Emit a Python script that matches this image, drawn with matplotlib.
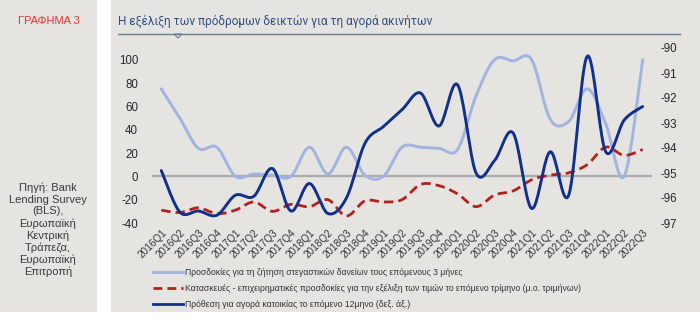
import numpy as np
import matplotlib
matplotlib.use("Agg")
import matplotlib.pyplot as plt
from matplotlib.patches import Rectangle, Polygon
from matplotlib.lines import Line2D
from matplotlib import font_manager

quarters = ["2016Q1", "2016Q2", "2016Q3", "2016Q4", "2017Q1", "2017Q2", "2017Q3", "2017Q4",
            "2018Q1", "2018Q2", "2018Q3", "2018Q4", "2019Q1", "2019Q2", "2019Q3", "2019Q4",
            "2020Q1", "2020Q2", "2020Q3", "2020Q4", "2021Q1", "2021Q2", "2021Q3", "2021Q4",
            "2022Q1", "2022Q2", "2022Q3"]

loan_demand = [75, 50, 24, 25, 0, 2, 1, 0, 25, 2, 25, 1, 0, 25, 25, 24,
               23, 69, 100, 99, 100, 49, 47, 75, 45, 0, 100]

construction = [-29, -31, -27, -32, -29, -22, -30, -24, -26, -20, -34, -21, -22, -20, -7, -8,
                -15, -26, -16, -12.5, -3, 1, 3, 10, 25, 18, 23]

purchase_intent = [-94.9, -96.56, -96.52, -96.69, -95.89, -95.93, -94.82, -96.52, -95.42, -96.62,
                   -96.0, -93.81, -93.14, -92.47, -91.80, -93.12, -91.47, -95.0, -94.5, -93.4,
                   -96.42, -94.15, -95.89, -90.33, -94.15, -92.88, -92.34]

left_ticks = [-40, -20, 0, 20, 40, 60, 80, 100]
right_ticks = [-97, -96, -95, -94, -93, -92, -91, -90]

labels = ["Προσδοκίες για τη ζήτηση στεγαστικών δανείων τους επόμενους 3 μήνες",
          "Κατασκευές - επιχειρηματικές προσδοκίες για την εξέλιξη των τιμών το επόμενο τρίμηνο (μ.ο. τριμήνων)",
          "Πρόθεση για αγορά κατοικίας το επόμενο 12μηνο (δεξ. άξ.)"]

installed = {f.name for f in font_manager.fontManager.ttflist}
narrow = "Liberation Sans Narrow" if "Liberation Sans Narrow" in installed else "Liberation Sans"

plt.rcParams['font.family'] = ['Liberation Sans', 'DejaVu Sans']


def smooth(y, n=20):
    y = np.asarray(y, dtype=float)
    x = np.arange(len(y), dtype=float)
    P = np.column_stack([x, y])
    Pext = np.vstack([P[0], P, P[-1]])
    out = []
    t = np.linspace(0, 1, n, endpoint=False)[:, None]
    for i in range(len(P) - 1):
        p0, p1, p2, p3 = Pext[i], Pext[i + 1], Pext[i + 2], Pext[i + 3]
        b1 = p1 + (p2 - p0) / 6.0
        b2 = p2 - (p3 - p1) / 6.0
        seg = ((1 - t) ** 3) * p1 + 3 * ((1 - t) ** 2) * t * b1 + 3 * (1 - t) * t ** 2 * b2 + t ** 3 * p2
        out.append(seg)
    out.append(P[-1][None, :])
    out = np.vstack(out)
    return out[:, 0], out[:, 1]


W, H = 700, 323
fig = plt.figure(figsize=(7.0, 3.23), dpi=100, facecolor="white")
bg = "#e6e4e0"
fig.patches.append(Rectangle((0, 11 / H), 97 / W, 1 - 11 / H, transform=fig.transFigure,
                             facecolor=bg, edgecolor="none", zorder=-10))
fig.patches.append(Rectangle((111 / W, 11 / H), 1 - 111 / W, 1 - 11 / H, transform=fig.transFigure,
                             facecolor=bg, edgecolor="none", zorder=-10))

ax = fig.add_axes([152 / W, 1 - 223 / H, 500 / W, 175 / H])
ax.set_facecolor("none")
ax2 = ax.twinx()
ax2.set_facecolor("none")

x = np.arange(len(quarters))
c_light = "#a2b3df"
c_red = "#b3211f"
c_dark = "#112f8c"

ax.axhline(0, color="#ababab", lw=1.6, zorder=1)
xs, ys = smooth(loan_demand)
ax.plot(xs, ys, color=c_light, lw=2.1, zorder=2, solid_capstyle="round")
xs, ys = smooth(construction)
ax.plot(xs, ys, color=c_red, lw=2.0, ls=(0, (3.4, 1.8)), zorder=3)
xs, ys = smooth(purchase_intent)
ax2.plot(xs, ys, color=c_dark, lw=2.1, zorder=4, solid_capstyle="round")

ax.set_xlim(-0.5, 26.5)
ax.set_ylim(-40, 110)
ax2.set_ylim(-97, -90)
ax.set_yticks(left_ticks)
ax.set_yticklabels([str(v) for v in left_ticks])
ax2.set_yticks(right_ticks)
ax2.set_yticklabels([str(v) for v in right_ticks])
ax.set_xticks(x)
ax.set_xticklabels(quarters, rotation=45, ha="right", rotation_mode="anchor")

for a in (ax, ax2):
    for s in a.spines.values():
        s.set_visible(False)
    a.tick_params(length=0, colors="#262626", labelsize=8.3)
ax.tick_params(axis="y", pad=10)
ax2.tick_params(axis="y", pad=6)
ax.tick_params(axis="x", pad=3, labelsize=7.2, colors="#333333")

# title + underline
fig.text(118 / W, 1 - 21 / H, "Η εξέλιξη των πρόδρομων δεικτών για τη αγορά ακινήτων",
         fontsize=8.5, color="#2f4f86", va="center", ha="left", family=["Roboto", "DejaVu Sans"])
fig.lines.append(Line2D([118 / W, 680 / W], [1 - 34 / H, 1 - 34 / H], transform=fig.transFigure,
                        color="#6c7d96", lw=1.0))
fig.patches.append(Polygon([[174 / W, 1 - 34 / H], [182 / W, 1 - 34 / H], [178 / W, 1 - 38 / H]],
                           closed=True, transform=fig.transFigure, facecolor=bg,
                           edgecolor="#6c7d96", lw=0.8))

fig.text(49 / W, 1 - 21 / H, "ΓΡΑΦΗΜΑ 3", fontsize=8, color="#e5342f", ha="center", va="center")
fig.text(48 / W, 1 - 230 / H,
         "Πηγή: Bank\nLending Survey\n(BLS),\nΕυρωπαϊκή\nΚεντρική\nΤράπεζα,\nΕυρωπαϊκή\nΕπιτροπή",
         fontsize=8, color="#3a3a3a", ha="center", va="center", linespacing=1.2)

# legend
handles = [Line2D([], [], color=c_light, lw=2.0),
           Line2D([], [], color=c_red, lw=2.0, ls=(0, (3.2, 1.8))),
           Line2D([], [], color=c_dark, lw=2.0)]
leg = fig.legend(handles, labels, loc="upper left", bbox_to_anchor=(150 / W, 1 - 265 / H),
                 frameon=False, prop={"family": narrow, "size": 6.2}, handlelength=3.4,
                 handletextpad=0.25, labelspacing=0.8, borderaxespad=0, labelcolor="#333333")

fig.savefig("out.png", dpi=100, facecolor="white")
